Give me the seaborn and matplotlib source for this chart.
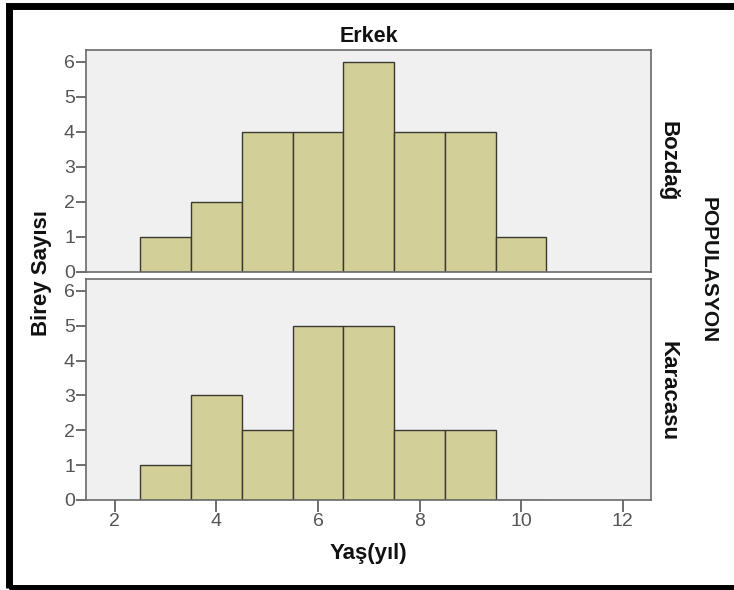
import numpy as np
import pandas as pd
import matplotlib
matplotlib.use("Agg")
import matplotlib.pyplot as plt
from matplotlib.patches import Rectangle
import seaborn as sns

# ---- data ----
ages = [3, 4, 5, 6, 7, 8, 9, 10]
bozdag_counts = [1, 2, 4, 4, 6, 4, 4, 1]
karacasu_counts = [1, 3, 2, 5, 5, 2, 2, 0]
populations = ["Bozdağ", "Karacasu"]
x_ticks = [2, 4, 6, 8, 10, 12]
y_ticks = [0, 1, 2, 3, 4, 5, 6]

# individual observations reconstructed from the bin counts
rows = []
for pop, counts in zip(populations, [bozdag_counts, karacasu_counts]):
    for a, c in zip(ages, counts):
        rows += [{"age": float(a), "pop": pop}] * c
df = pd.DataFrame(rows)

sns.set_style("white")
plt.rcParams["font.family"] = ["Liberation Sans", "DejaVu Sans"]

W, H = 734, 590
fig = plt.figure(figsize=(W / 100, H / 100), dpi=100)

def px_axes(left, top, right, bottom):
    return fig.add_axes([left / W, (H - bottom) / H, (right - left) / W, (bottom - top) / H])

ax_top = px_axes(86, 50, 651, 272)
ax_bot = px_axes(86, 279, 651, 500)

bar_color = "#d3cf98"
edge_color = "#3a3a30"
bins = [2.5, 3.5, 4.5, 5.5, 6.5, 7.5, 8.5, 9.5, 10.5]

for ax, pop in zip([ax_top, ax_bot], populations):
    sub = df[df["pop"] == pop]
    sns.histplot(data=sub, x="age", bins=bins, ax=ax,
                 color=bar_color, edgecolor=edge_color, linewidth=1.0, alpha=1)
    ax.set_facecolor("#f0f0f0")
    ax.set_xlim(1.43, 12.56)
    ax.set_ylim(0, 6.34)
    ax.set_yticks(y_ticks)
    ax.set_xticks(x_ticks)
    ax.set_xlabel("")
    ax.set_ylabel("")
    for s in ax.spines.values():
        s.set_color("#6a6a6a")
        s.set_linewidth(1.2)
        s.set_visible(True)
    ax.tick_params(axis="y", direction="out", length=7, width=1.2, color="#555555",
                   labelcolor="#555555", labelsize=14, pad=1, left=True)
    ax.tick_params(axis="x", direction="out", length=8.5, width=1.2, color="#555555",
                   labelcolor="#555555", labelsize=14, pad=1, bottom=True)

ax_top.tick_params(axis="x", bottom=False, labelbottom=False)

def ftext(x, y, s, **kw):
    fig.text(x / W, (H - y) / H, s, ha="center", va="center", fontweight="bold",
             color="#111111", **kw)

ftext(369, 36, "Erkek", fontsize=15.5)
ftext(668, 161, "Bozdağ", fontsize=16, rotation=-90)
ftext(668, 391, "Karacasu", fontsize=16, rotation=-90)
ftext(708, 270, "POPULASYON", fontsize=15, rotation=-90)
ftext(41, 273, "Birey Sayısı", fontsize=16, rotation=90)
ftext(368, 554, "Yaş(yıl)", fontsize=16)

# outer black frame (right edge lies outside the image)
frame = Rectangle((8.5 / W, 2 / H), (760 - 8.5) / W, (584.5 - 2) / H,
                  transform=fig.transFigure, fill=False, edgecolor="black",
                  linewidth=5.0)
fig.patches.append(frame)

fig.savefig("out.png", dpi=100, facecolor="white")
